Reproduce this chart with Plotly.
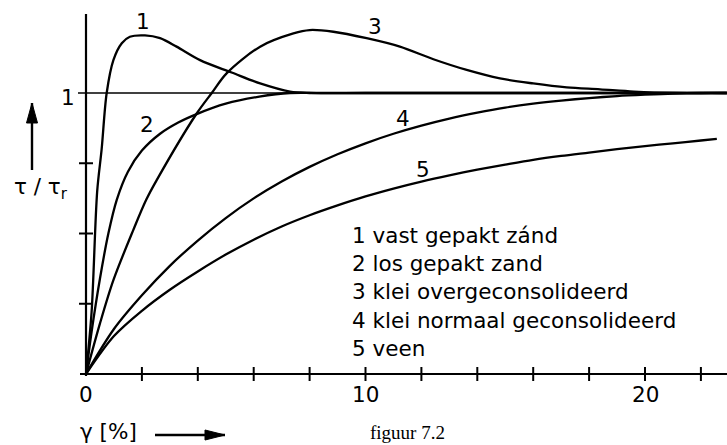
import plotly.graph_objects as go

# ---- data: tau / tau_r versus shear strain gamma [%] ----
x_zand_vast = [0, 0.2, 0.4, 0.56, 0.74, 0.98, 1.28, 1.57, 2.11, 2.65, 3.24, 4.08, 5.21, 6.23, 7.3, 8.0, 10, 14, 18, 22.93]
y_zand_vast = [0, 0.22, 0.65, 0.8, 1.0, 1.117, 1.177, 1.2, 1.205, 1.195, 1.165, 1.117, 1.073, 1.034, 1.005, 1.0, 1.0, 1.0, 1.0, 1.0]

x_zand_los = [0, 0.2, 0.5, 0.8, 1.1, 1.5, 2.0, 2.65, 3.3, 3.96, 5.0, 6.2, 7.3, 8.5, 12, 16, 20, 22.93]
y_zand_los = [0, 0.15, 0.34, 0.5, 0.62, 0.72, 0.795, 0.855, 0.895, 0.925, 0.962, 0.987, 1.0, 1.0, 1.0, 1.0, 1.0, 1.0]

x_klei_oc = [0, 0.5, 0.98, 1.69, 2.15, 2.53, 3.96, 4.5, 5.03, 6.23, 7.42, 8.0, 8.85, 10.04, 11.23, 12.43, 13.62, 14.81, 16.0, 17.2, 18.39, 19.6, 21, 22.93]
y_klei_oc = [0, 0.18, 0.334, 0.512, 0.619, 0.69, 0.927, 1.0, 1.07, 1.165, 1.212, 1.224, 1.218, 1.195, 1.165, 1.12, 1.082, 1.052, 1.034, 1.02, 1.013, 1.005, 1.0, 1.0]

x_klei_nc = [0, 1, 2, 3, 4, 5, 6, 7, 8, 9, 10, 11, 12, 13, 14, 15, 16, 17, 18, 19, 20, 21, 22, 22.93]
y_klei_nc = [0, 0.16, 0.28, 0.385, 0.475, 0.555, 0.625, 0.685, 0.737, 0.782, 0.821, 0.855, 0.884, 0.909, 0.93,
             0.948, 0.962, 0.973, 0.982, 0.989, 0.994, 0.998, 1.0, 1.0]

x_veen = [0, 1, 2, 3, 4, 5, 6, 7, 8, 9, 10, 11, 12, 13, 14, 15, 16, 17, 18, 19, 20, 21, 22, 22.57]
y_veen = [0, 0.135, 0.225, 0.3, 0.365, 0.425, 0.478, 0.525, 0.565, 0.6, 0.632, 0.66, 0.685, 0.707, 0.727,
          0.745, 0.762, 0.776, 0.788, 0.8, 0.811, 0.821, 0.831, 0.837]

curve_numbers = ["1", "2", "3", "4", "5"]
curve_names = ["vast gepakt zánd", "los gepakt zand", "klei overgeconsolideerd",
               "klei normaal geconsolideerd", "veen"]
curve_label_x = [2.05, 2.18, 10.33, 11.35, 12.05]
curve_label_y = [1.256, 0.887, 1.238, 0.911, 0.726]

x_ticks = [2, 4, 6, 8, 10, 12, 14, 16, 18, 20, 22]
x_tick_labels = ["0", "10", "20"]
x_tick_label_vals = [0, 10, 20]
y_ticks = [0.25, 0.5, 0.75]

# ---- canvas geometry (data units that span the whole page) ----
W, H = 727, 445
X0_PX, Y0_PX = 86, 374          # pixel position of the origin
SX, SY = 27.95, 281.0           # pixels per data unit
x_range = [-X0_PX / SX, (W - X0_PX) / SX]
y_range = [-(H - Y0_PX) / SY, Y0_PX / SY]
XMAX = x_range[1]

def dx(px):
    return px / SX

def dy(px):
    return px / SY

FONT = "DejaVu Sans"
FS = 21.5

fig = go.Figure()

# axes
fig.add_trace(go.Scatter(x=[0, 0], y=[-dy(2), 1.281], mode="lines",
                         line=dict(color="black", width=2.2), hoverinfo="skip"))
fig.add_trace(go.Scatter(x=[-dx(6), XMAX], y=[0, 0], mode="lines",
                         line=dict(color="black", width=2.2), hoverinfo="skip"))
# reference line tau = tau_r
fig.add_trace(go.Scatter(x=[-dx(8), XMAX], y=[1, 1], mode="lines",
                         line=dict(color="black", width=1.5), hoverinfo="skip"))

# tick marks crossing the axes
tx, ty = [], []
for v in x_ticks:
    tx += [v, v, None]
    ty += [-dy(7), dy(7), None]
for v in y_ticks:
    tx += [-dx(7), dx(7), None]
    ty += [v, v, None]
fig.add_trace(go.Scatter(x=tx, y=ty, mode="lines",
                         line=dict(color="black", width=2), hoverinfo="skip"))

# curves
for xs, ys in [(x_zand_vast, y_zand_vast), (x_zand_los, y_zand_los),
               (x_klei_oc, y_klei_oc), (x_klei_nc, y_klei_nc), (x_veen, y_veen)]:
    fig.add_trace(go.Scatter(x=xs, y=ys, mode="lines",
                             line=dict(color="black", width=2.3, shape="spline", smoothing=0.9),
                             hoverinfo="skip"))

# arrows next to the axis titles
def arrow(x_tail, y_tail, x_tip, y_tip, head_len_px, half_w_px):
    fig.add_trace(go.Scatter(x=[x_tail, x_tip], y=[y_tail, y_tip], mode="lines",
                             line=dict(color="black", width=2.4), hoverinfo="skip"))
    if x_tail == x_tip:   # vertical
        hx = [x_tip, x_tip - dx(half_w_px), x_tip + dx(half_w_px), x_tip]
        hy = [y_tip, y_tip - dy(head_len_px), y_tip - dy(head_len_px), y_tip]
    else:                 # horizontal
        hx = [x_tip, x_tip - dx(head_len_px), x_tip - dx(head_len_px), x_tip]
        hy = [y_tip, y_tip + dy(half_w_px), y_tip - dy(half_w_px), y_tip]
    fig.add_trace(go.Scatter(x=hx, y=hy, mode="lines", fill="toself", fillcolor="black",
                             line=dict(color="black", width=1), hoverinfo="skip"))

arrow(-dx(54), dy(374 - 170), -dx(54), dy(374 - 103), 20, 5.5)
arrow(dx(155 - 86), -dy(435 - 374), dx(225 - 86), -dy(435 - 374), 20, 5)

ann = []
def text(x, y, s, xanchor="center", size=FS, family=FONT):
    ann.append(dict(x=x, y=y, xref="x", yref="y", text=s, showarrow=False,
                    xanchor=xanchor, yanchor="middle",
                    font=dict(family=family, size=size, color="black")))

# tick labels
for v, s in zip(x_tick_label_vals, x_tick_labels):
    text(v, -dy(394 - 374), s)
text(-dx(86 - 68), dy(374 - 97), "1")

# axis titles
text(-dx(86 - 41), dy(374 - 188), "τ / τ<sub>r</sub>")
text(-dx(86 - 78), -dy(431 - 374), "γ [%]", xanchor="left")

# curve numbers
for n, lx, ly in zip(curve_numbers, curve_label_x, curve_label_y):
    text(lx, ly, n)

# legend block
for i, (n, name) in enumerate(zip(curve_numbers, curve_names)):
    text(dx(350 - 86), dy(374 - (235 + 28.4 * i)), f"{n} {name}", xanchor="left")

# caption
text(dx(368 - 86), -dy(432 - 374), "figuur 7.2", xanchor="left", size=19, family="Liberation Serif")

fig.update_layout(
    width=W, height=H, margin=dict(l=0, r=0, t=0, b=0),
    paper_bgcolor="white", plot_bgcolor="white", showlegend=False,
    xaxis=dict(range=x_range, visible=False, fixedrange=True),
    yaxis=dict(range=y_range, visible=False, fixedrange=True),
    annotations=ann,
)

fig.write_html("out.html", config={"displayModeBar": False})
